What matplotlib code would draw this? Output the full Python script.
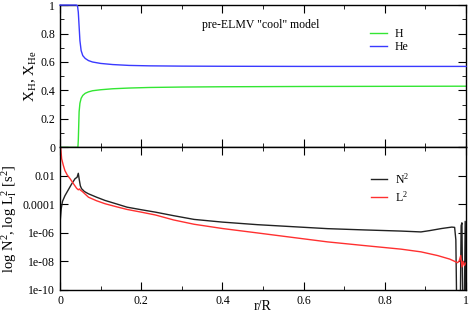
import numpy as np
import matplotlib
matplotlib.use("Agg")
import matplotlib.pyplot as plt
from matplotlib.ticker import MultipleLocator, FixedLocator, FixedFormatter, NullLocator

# top panel: mass fractions
r_he = [0, 0.04, 0.043, 0.045, 0.047, 0.049, 0.052, 0.056, 0.062, 0.07, 0.08, 0.1,
        0.13, 0.17, 0.22, 0.3, 0.4, 0.6, 0.8, 1.0]
x_he = [1, 1, 0.995, 0.95, 0.85, 0.75, 0.68, 0.645, 0.625, 0.61, 0.6, 0.59,
        0.582, 0.576, 0.573, 0.571, 0.57, 0.569, 0.569, 0.569]
r_h = [0, 0.044, 0.045, 0.046, 0.047, 0.049, 0.052, 0.056, 0.062, 0.07, 0.08, 0.1,
       0.13, 0.17, 0.22, 0.3, 0.4, 0.6, 0.8, 1.0]
x_h = [0, 0, 0.05, 0.15, 0.25, 0.31, 0.345, 0.365, 0.38, 0.39, 0.398, 0.405,
       0.412, 0.417, 0.421, 0.424, 0.426, 0.428, 0.429, 0.43]

# bottom panel: log10 of N^2 and L^2
r_n = [0, 0.003, 0.006, 0.012, 0.02, 0.028, 0.037, 0.042, 0.045, 0.047, 0.05, 0.053,
       0.06, 0.07, 0.09, 0.111, 0.14, 0.165, 0.2, 0.235, 0.28, 0.33, 0.4, 0.486,
       0.56, 0.659, 0.75, 0.84, 0.889, 0.91, 0.94, 0.965, 0.972, 0.975, 0.977,
       0.986, 0.988, 0.990, 0.992, 0.996, 0.998, 1.0]
logn = [-5.3, -4.3, -3.8, -3.4, -3.0, -2.6, -2.2, -2.1, -1.82, -2.2, -2.7, -2.9,
        -3.1, -3.26, -3.5, -3.73, -3.98, -4.2, -4.38, -4.55, -4.8, -5.06, -5.25, -5.43,
        -5.55, -5.71, -5.8, -5.88, -5.94, -5.85, -5.7, -5.6, -5.62, -6.5, -11,
        -11, -5.5, -5.3, -11, -11, -5.2, -11]
r_l = [0.001, 0.004, 0.008, 0.012, 0.018, 0.025, 0.033, 0.041, 0.045, 0.048, 0.05,
       0.055, 0.07, 0.09, 0.111, 0.14, 0.165, 0.2, 0.235, 0.28, 0.33, 0.4, 0.486,
       0.56, 0.659, 0.75, 0.84, 0.889, 0.93, 0.96, 0.979, 0.983, 0.987, 0.99, 0.993,
       0.996, 1.0]
logl = [0.2, -0.8, -1.25, -1.63, -1.95, -2.21, -2.55, -2.88, -2.98, -2.92, -3.0,
        -3.1, -3.5, -3.75, -3.96, -4.18, -4.36, -4.55, -4.75, -5.1, -5.4, -5.7, -6.01,
        -6.28, -6.64, -6.9, -7.15, -7.34, -7.6, -7.85, -8.1, -8.0, -7.6, -8.4, -8.0,
        -8.3, -8.1]

x_ticks = [0, 0.2, 0.4, 0.6, 0.8, 1.0]
x_ticklabels = ["0", "0.2", "0.4", "0.6", "0.8", "1"]
y1_ticks = [0, 0.2, 0.4, 0.6, 0.8, 1.0]
y1_ticklabels = ["0", "0.2", "0.4", "0.6", "0.8", "1"]
y2_ticks = [1e-10, 1e-8, 1e-6, 1e-4, 1e-2, 1]
y2_ticklabels = ["1e-10", "1e-08", "1e-06", "0.0001", "0.01", ""]

plt.rcParams['font.family'] = ['Liberation Serif', 'DejaVu Serif']
plt.rcParams['mathtext.fontset'] = 'custom'
plt.rcParams['mathtext.rm'] = 'Liberation Serif'
plt.rcParams['mathtext.it'] = 'Liberation Serif'
plt.rcParams['xtick.direction'] = 'in'
plt.rcParams['ytick.direction'] = 'in'
plt.rcParams['xtick.top'] = True
plt.rcParams['ytick.right'] = True
plt.rcParams['xtick.major.size'] = 5.5
plt.rcParams['ytick.major.size'] = 5.5
plt.rcParams['xtick.minor.size'] = 3
plt.rcParams['ytick.minor.size'] = 3
plt.rcParams['xtick.major.pad'] = 3.5
plt.rcParams['ytick.major.pad'] = 3.5
plt.rcParams['axes.linewidth'] = 1.0

fig = plt.figure(figsize=(4.69, 3.17), dpi=100)
gs = fig.add_gridspec(2, 1, left=0.128, right=0.9936, top=0.984, bottom=0.0861, hspace=0)
ax1 = fig.add_subplot(gs[0])
ax2 = fig.add_subplot(gs[1], sharex=ax1)

#上图
ax1.plot(r_h, x_h, color='#33e633', lw=1.0, label='H')
ax1.plot(r_he, x_he, color='#3a3aff', lw=1.0, label='He', clip_on=False, zorder=4)
ax1.set_ylim(0, 1)
ax1.set_xlim(0, 1)
ax1.set_yticks(y1_ticks)
ax1.set_yticklabels(y1_ticklabels, fontsize=8.5)
ax1.yaxis.set_minor_locator(MultipleLocator(0.1))
ax1.xaxis.set_minor_locator(MultipleLocator(0.1))
ax1.tick_params(labelbottom=False)
ax1.set_ylabel("X$_{H}$, X$_{He}$", fontsize=11)
ax1.yaxis.set_label_coords(-0.052, 0.5)
ax1.text(0.495, 0.86, 'pre-ELMV "cool" model', transform=ax1.transAxes,
         ha='center', va='center', fontsize=8.5)
ax1.legend(loc='upper left', bbox_to_anchor=(0.764, 0.84), frameon=False,
           fontsize=8.5, handlelength=1.4, handletextpad=0.7, labelspacing=0.1,
           borderpad=0, borderaxespad=0)

#下图
ax2.plot(r_n, 10.0 ** np.array(logn), color='#222222', lw=1.0, label='N$^2$')
ax2.plot(r_l, 10.0 ** np.array(logl), color='#ff3030', lw=1.0, label='L$^2$')
ax2.set_yscale('log')
ax2.set_ylim(1e-10, 1)
ax2.yaxis.set_major_locator(FixedLocator(y2_ticks))
ax2.yaxis.set_major_formatter(FixedFormatter(y2_ticklabels))
ax2.yaxis.set_minor_locator(NullLocator())
ax2.tick_params(axis='y', labelsize=8.5)
ax2.set_xticks(x_ticks)
ax2.set_xticklabels(x_ticklabels, fontsize=8.5)
ax2.xaxis.set_minor_locator(MultipleLocator(0.1))
ax2.set_xlim(0, 1)
ax2.set_ylabel("log N$^2$, log L$_l^2$ [s$^{2}$]", fontsize=10.5)
ax2.yaxis.set_label_coords(-0.101, 0.5)
ax2.set_xlabel("r/R", fontsize=10)
ax2.xaxis.set_label_coords(0.5, -0.075)
ax2.xaxis.label.set_va('top')
ax2.legend(loc='upper left', bbox_to_anchor=(0.765, 0.83), frameon=False,
           fontsize=8.5, handlelength=1.4, handletextpad=0.7, labelspacing=0.3,
           borderpad=0, borderaxespad=0)

plt.savefig('out.png', dpi=100)
